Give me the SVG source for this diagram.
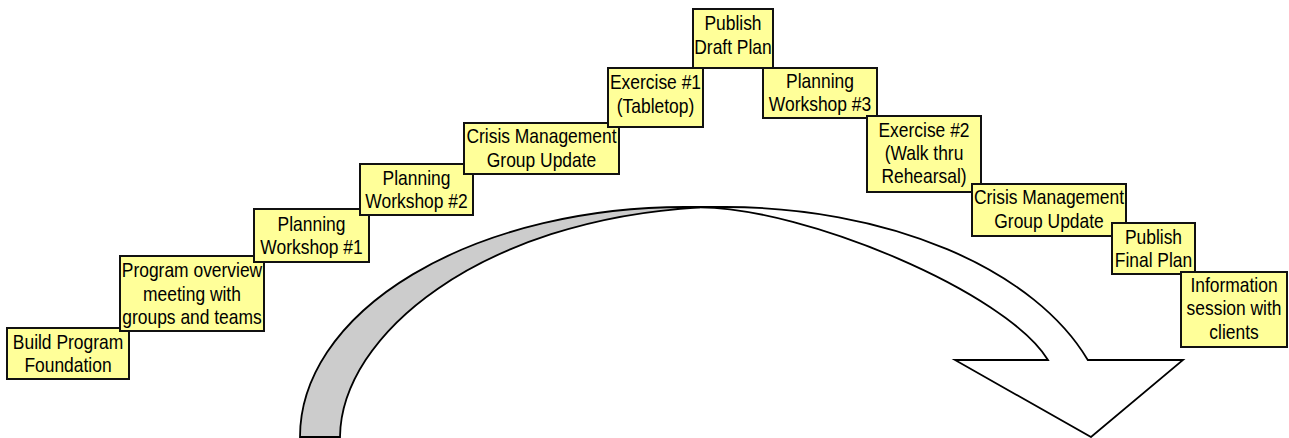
<svg xmlns="http://www.w3.org/2000/svg" width="1289" height="438" viewBox="0 0 1289 438">
<style>
.box{fill:#ffff99;stroke:#111;stroke-width:2}
.t{font-family:"Liberation Sans",Arial,sans-serif;font-size:20.5px;fill:#000;text-anchor:middle}
.arr{stroke:#000;stroke-width:1.8;stroke-linejoin:miter}
</style>
<rect width="1289" height="438" fill="#fff"/>
<g id="connectors">
  <path class="arr" fill="#ffffff" d="M685,207 L725,207 A385,230 0 0 1 1087.8,360 L1183,360 L1091,437 L955,360 L1048,360 C1006,291.8 805,208 700,207.3 Z"/>
  <path class="arr" fill="#cccccc" d="M300,437 A385,230 0 0 1 685,207 L700,207.3 C480,220 341,335 340,437 Z"/>
</g>
<g id="n1"><rect class="box" x="7" y="328" width="122" height="51"/>
<g transform="translate(68 0) scale(0.85 1)"><text class="t" x="0" y="349">Build Program</text><text class="t" x="0" y="372.3">Foundation</text></g></g>
<g id="n2"><rect class="box" x="120" y="256" width="144" height="75"/>
<g transform="translate(192 0) scale(0.85 1)"><text class="t" x="0" y="277.3">Program overview</text><text class="t" x="0" y="300.6">meeting with</text><text class="t" x="0" y="323.9">groups and teams</text></g></g>
<g id="n3"><rect class="box" x="254" y="209" width="115" height="53"/>
<g transform="translate(311.5 0) scale(0.85 1)"><text class="t" x="0" y="231">Planning</text><text class="t" x="0" y="254.3">Workshop #1</text></g></g>
<g id="n4"><rect class="box" x="360" y="164" width="113" height="51"/>
<g transform="translate(416.5 0) scale(0.85 1)"><text class="t" x="0" y="185">Planning</text><text class="t" x="0" y="208.3">Workshop #2</text></g></g>
<g id="n5"><rect class="box" x="464" y="123" width="155" height="51"/>
<g transform="translate(541.5 0) scale(0.85 1)"><text class="t" x="0" y="143.5">Crisis Management</text><text class="t" x="0" y="166.8">Group Update</text></g></g>
<g id="n6"><rect class="box" x="608" y="68" width="95" height="59"/>
<g transform="translate(655.5 0) scale(0.85 1)"><text class="t" x="0" y="89.3">Exercise #1</text><text class="t" x="0" y="112.6">(Tabletop)</text></g></g>
<g id="n7"><rect class="box" x="693" y="9" width="80" height="59"/>
<g transform="translate(733 0) scale(0.85 1)"><text class="t" x="0" y="30.3">Publish</text><text class="t" x="0" y="53.6">Draft Plan</text></g></g>
<g id="n8"><rect class="box" x="763" y="68" width="114" height="50"/>
<g transform="translate(820 0) scale(0.85 1)"><text class="t" x="0" y="88">Planning</text><text class="t" x="0" y="111.3">Workshop #3</text></g></g>
<g id="n9"><rect class="box" x="867" y="116" width="114" height="76"/>
<g transform="translate(924 0) scale(0.85 1)"><text class="t" x="0" y="136.7">Exercise #2</text><text class="t" x="0" y="160">(Walk thru</text><text class="t" x="0" y="183.3">Rehearsal)</text></g></g>
<g id="n10"><rect class="box" x="972" y="184" width="154" height="52"/>
<g transform="translate(1049 0) scale(0.85 1)"><text class="t" x="0" y="204.5">Crisis Management</text><text class="t" x="0" y="227.8">Group Update</text></g></g>
<g id="n11"><rect class="box" x="1112" y="223" width="83" height="51"/>
<g transform="translate(1153.5 0) scale(0.85 1)"><text class="t" x="0" y="244">Publish</text><text class="t" x="0" y="267.3">Final Plan</text></g></g>
<g id="n12"><rect class="box" x="1181" y="272" width="106" height="75"/>
<g transform="translate(1234 0) scale(0.85 1)"><text class="t" x="0" y="292">Information</text><text class="t" x="0" y="315.5">session with</text><text class="t" x="0" y="339">clients</text></g></g>
</svg>
